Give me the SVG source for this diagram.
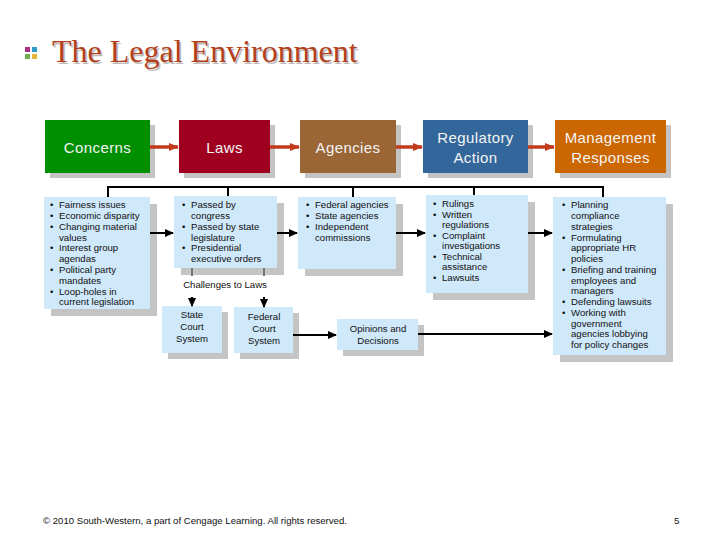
<svg xmlns="http://www.w3.org/2000/svg" width="720" height="540" viewBox="0 0 720 540">
<defs>
<marker id="ah-red" markerWidth="10" markerHeight="8" refX="9" refY="4" orient="auto" markerUnits="userSpaceOnUse"><path d="M0,0 L10,4 L0,8 z" fill="#C23A1C"/></marker>
<marker id="ah-black" markerWidth="9" markerHeight="8" refX="8" refY="4" orient="auto" markerUnits="userSpaceOnUse"><path d="M0,0 L9,4 L0,8 z" fill="#000"/></marker>
</defs>
<style>
.shadow{fill:#C4C4C4}
.hdr{font-family:"Liberation Sans",Arial,sans-serif;font-size:15px;fill:#F4F4F4;text-anchor:middle;letter-spacing:0.4px}
.det{fill:#CFE8FA}
.t{font-family:"Liberation Sans",Arial,sans-serif;font-size:9.6px;fill:#111}
.c{text-anchor:middle}
.red{stroke:#C23A1C;stroke-width:3.5;fill:none;marker-end:url(#ah-red)}
.blk{stroke:#000;stroke-width:2;fill:none}
.blka{stroke:#000;stroke-width:2;fill:none;marker-end:url(#ah-black)}
</style>
<rect width="720" height="540" fill="#fff"/>

<g id="title">
<rect x="25" y="47" width="5" height="5" fill="#A8328C"/>
<rect x="32" y="47" width="5" height="5" fill="#2E9BC9"/>
<rect x="25" y="54" width="5" height="5" fill="#6BB04A"/>
<rect x="32" y="54" width="5" height="5" fill="#E6B63A"/>
<text x="53.5" y="63.5" font-family="'Liberation Serif','Times New Roman',serif" font-size="32" fill="#BDBDBD">The Legal Environment</text>
<text x="52" y="62" font-family="'Liberation Serif','Times New Roman',serif" font-size="32" fill="#B4401C">The Legal Environment</text>
</g>

<g id="concerns">
<rect class="shadow" x="50" y="125" width="105" height="53"/>
<rect x="45" y="120" width="105" height="53" fill="#008F00"/>
<text class="hdr" x="97.5" y="153">Concerns</text>
</g>
<g id="laws">
<rect class="shadow" x="184" y="125" width="91" height="53"/>
<rect x="179" y="120" width="91" height="53" fill="#A0001F"/>
<text class="hdr" x="224.5" y="153">Laws</text>
</g>
<g id="agencies">
<rect class="shadow" x="305" y="125" width="96" height="53"/>
<rect x="300" y="120" width="96" height="53" fill="#9A6636"/>
<text class="hdr" x="348" y="153">Agencies</text>
</g>
<g id="regulatory-action">
<rect class="shadow" x="428" y="125" width="105" height="53"/>
<rect x="423" y="120" width="105" height="53" fill="#33669A"/>
<text class="hdr" x="475.5" y="143">Regulatory</text>
<text class="hdr" x="475.5" y="163">Action</text>
</g>
<g id="management-responses">
<rect class="shadow" x="560" y="125" width="111" height="53"/>
<rect x="555" y="120" width="111" height="53" fill="#CC6600"/>
<text class="hdr" x="610.5" y="143">Management</text>
<text class="hdr" x="610.5" y="163">Responses</text>
</g>

<g id="concerns-detail">
<rect class="shadow" x="51" y="204" width="106" height="112"/>
<rect class="det" x="44" y="197" width="106" height="112"/>
<g class="t">
<text x="50" y="208">•</text><text x="59" y="208">Fairness issues</text>
<text x="50" y="219">•</text><text x="59" y="219">Economic disparity</text>
<text x="50" y="230">•</text><text x="59" y="230">Changing material</text>
<text x="59" y="240.5">values</text>
<text x="50" y="251">•</text><text x="59" y="251">Interest group</text>
<text x="59" y="262">agendas</text>
<text x="50" y="273">•</text><text x="59" y="273">Political party</text>
<text x="59" y="284">mandates</text>
<text x="50" y="294.5">•</text><text x="59" y="294.5">Loop-holes in</text>
<text x="59" y="305">current legislation</text>
</g>
</g>

<g id="laws-detail">
<rect class="shadow" x="181" y="203" width="103" height="72"/>
<rect class="det" x="174" y="196" width="103" height="72"/>
<g class="t">
<text x="182" y="208">•</text><text x="191" y="208">Passed by</text>
<text x="191" y="219">congress</text>
<text x="182" y="230">•</text><text x="191" y="230">Passed by state</text>
<text x="191" y="241">legislature</text>
<text x="182" y="251">•</text><text x="191" y="251">Presidential</text>
<text x="191" y="262">executive orders</text>
</g>
</g>

<g id="agencies-detail">
<rect class="shadow" x="305" y="204" width="98" height="72"/>
<rect class="det" x="298" y="197" width="98" height="72"/>
<g class="t">
<text x="306" y="208">•</text><text x="315" y="208">Federal agencies</text>
<text x="306" y="219">•</text><text x="315" y="219">State agencies</text>
<text x="306" y="230">•</text><text x="315" y="230">Independent</text>
<text x="315" y="240.5">commissions</text>
</g>
</g>

<g id="regulatory-detail">
<rect class="shadow" x="433" y="202" width="102" height="98"/>
<rect class="det" x="426" y="195" width="102" height="98"/>
<g class="t">
<text x="433" y="207">•</text><text x="442" y="207">Rulings</text>
<text x="433" y="217.5">•</text><text x="442" y="217.5">Written</text>
<text x="442" y="228">regulations</text>
<text x="433" y="238.5">•</text><text x="442" y="238.5">Complaint</text>
<text x="442" y="249">investigations</text>
<text x="433" y="259.5">•</text><text x="442" y="259.5">Technical</text>
<text x="442" y="270">assistance</text>
<text x="433" y="280.5">•</text><text x="442" y="280.5">Lawsuits</text>
</g>
</g>

<g id="management-detail">
<rect class="shadow" x="560" y="204" width="113" height="158"/>
<rect class="det" x="553" y="197" width="113" height="158"/>
<g class="t">
<text x="562" y="208">•</text><text x="571" y="208">Planning</text>
<text x="571" y="219">compliance</text>
<text x="571" y="229.5">strategies</text>
<text x="562" y="240.5">•</text><text x="571" y="240.5">Formulating</text>
<text x="571" y="251">appropriate HR</text>
<text x="571" y="262">policies</text>
<text x="562" y="272.5">•</text><text x="571" y="272.5">Briefing and training</text>
<text x="571" y="283.5">employees and</text>
<text x="571" y="294">managers</text>
<text x="562" y="305">•</text><text x="571" y="305">Defending lawsuits</text>
<text x="562" y="315.5">•</text><text x="571" y="315.5">Working with</text>
<text x="571" y="326.5">government</text>
<text x="571" y="337">agencies lobbying</text>
<text x="571" y="348">for policy changes</text>
</g>
</g>

<g id="challenges-label">
<text class="t c" x="225" y="288">Challenges to Laws</text>
</g>

<g id="state-court">
<rect class="shadow" x="168" y="312" width="60" height="47"/>
<rect class="det" x="162" y="306" width="60" height="47"/>
<g class="t c">
<text x="192" y="318">State</text>
<text x="192" y="330">Court</text>
<text x="192" y="342">System</text>
</g>
</g>

<g id="federal-court">
<rect class="shadow" x="240" y="313" width="59" height="46"/>
<rect class="det" x="234" y="307" width="59" height="46"/>
<g class="t c">
<text x="264" y="320">Federal</text>
<text x="264" y="332">Court</text>
<text x="264" y="344">System</text>
</g>
</g>

<g id="opinions">
<rect class="shadow" x="343" y="325" width="81" height="31"/>
<rect class="det" x="337" y="319" width="81" height="31"/>
<g class="t c">
<text x="378" y="332">Opinions and</text>
<text x="378" y="344">Decisions</text>
</g>
</g>

<g id="connectors">
<path class="red" d="M150,147 H178"/>
<path class="red" d="M270,147 H299"/>
<path class="red" d="M396,147 H422"/>
<path class="red" d="M528,147 H554"/>
<path class="blk" d="M108,197 V187 H603 V197 M228,187 V196 M353,187 V197 M474,187 V195"/>
<path class="blka" d="M150,233 H173"/>
<path class="blka" d="M277,233 H297"/>
<path class="blka" d="M396,233 H425"/>
<path class="blka" d="M528,233 H552"/>
<path d="M192,268 V276 M264,268 V276" stroke="#777" stroke-width="2"/>
<path class="blka" d="M192,297 V306"/>
<path class="blka" d="M264,297 V307"/>
<path class="blka" d="M293,335 H336"/>
<path class="blka" d="M418,334 H552"/>
</g>

<g id="footer">
<text class="t" x="43" y="524">© 2010 South-Western, a part of Cengage Learning. All rights reserved.</text>
<text class="t" x="674" y="524">5</text>
</g>
</svg>
